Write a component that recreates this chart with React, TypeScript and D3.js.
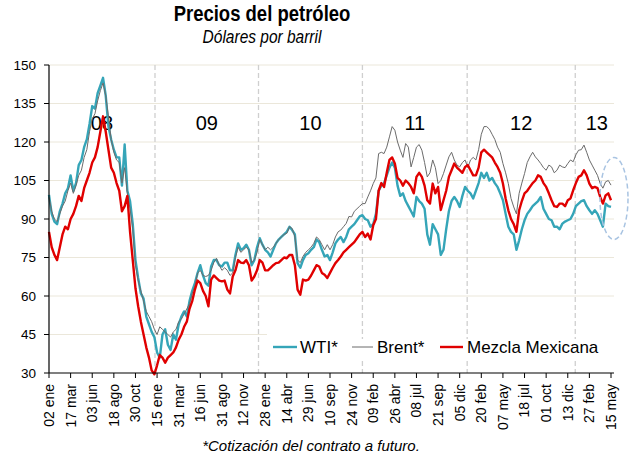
import React from "react";
import * as d3 from "d3";

// Sampled every 6.5 trading days (8 samples per x tick interval)
const wti: number[] = [
  99.4, 92, 89, 88, 93, 96, 100, 102, 107, 101, 104, 111, 113, 118, 121, 127, 134, 133, 139, 142, 145, 138, 126, 121,
  117, 114, 114, 103, 119, 101, 97, 88, 74, 67, 61, 59, 52, 49, 46, 44, 38, 36, 45, 47, 41, 39, 45, 43, 49, 52, 54, 52, 58,
  62, 65, 69, 72, 68, 65, 64, 71.5, 74, 74, 72, 71.5, 73, 73, 70, 70, 76, 80.5, 78, 78.6, 80, 78, 72, 74, 79, 82.5, 80,
  78, 77, 75.4, 78, 80.5, 82, 83, 84, 85, 87, 85.7, 84, 72.8, 71, 74, 76, 76.7, 78, 79, 82, 81, 78, 75.4, 76, 74, 77,
  80.5, 82, 83, 81, 83, 86, 87, 88, 89.5, 91, 91.5, 90, 89.5, 87, 88, 92, 101, 103, 104, 107, 110, 112, 110, 103, 99,
  100, 97, 95, 93, 91, 98.6, 97, 96, 94, 84, 80, 88, 86, 84, 76, 78, 86, 93, 97, 98.6, 97, 94.7, 99, 102.5, 101, 100, 98,
  101, 104, 108, 106, 108, 105, 106, 104, 102.5, 100, 97.3, 92, 87, 85, 84, 78, 81.7, 86, 89.5, 92, 93.4, 95, 96, 97,
  98.6, 94, 92, 90, 89.5, 87, 87, 86, 88.2, 89, 89.5, 90, 92, 95, 96, 97, 97.3, 95, 93.4, 92, 93.4, 92, 89.5, 87, 96, 95,
  94.7,
];
const brent: number[] = [
  98.5, 93, 90, 89, 92, 95, 97, 101, 104, 100, 103, 107, 109, 114, 117, 124, 129, 131, 136, 140, 143, 138, 130, 121,
  116, 113, 112, 104, 110, 100, 94, 86, 72, 66, 62, 58, 54, 52, 50, 47, 45, 48, 47, 46, 45, 44, 46, 47, 50, 51, 53, 55, 57,
  61, 64, 69, 70, 68, 67.6, 68, 70, 73, 74.7, 72, 70, 71, 70, 68, 69, 75, 79, 77, 78, 79, 78, 73, 74, 77, 82, 80, 78, 79,
  78, 79, 80.5, 82, 83, 84, 84.4, 87, 86.3, 83, 74, 73, 75.4, 77, 78, 79, 80.5, 83, 82, 80, 78, 80, 78, 80, 83, 85, 85.7,
  87, 88.3, 91, 90.8, 93, 94, 95, 96, 96, 98.6, 101, 103.8, 106, 115.5, 116, 115.5, 118, 122, 126, 124.6, 120, 116.8, 114,
  119.4, 118, 110.3, 114, 118, 119, 116.8, 112, 106.4, 108, 113, 110, 103.8, 105, 107.7, 111, 114.2, 116, 113, 111, 110.3,
  112, 113, 110, 113, 114, 113, 117, 123, 126, 126, 125, 123, 121, 118, 116, 111.6, 108, 103.8, 98, 94.7, 92, 100, 104,
  107.7, 112, 114.2, 116, 114.2, 113, 111.6, 110, 109, 111, 110.3, 108, 109, 111, 110.3, 110, 111.6, 113, 112.3, 115,
  116.8, 117, 118.8, 116, 113, 111, 109, 107, 103.8, 102, 104.5, 105, 103.2,
];
const mezcla: number[] = [
  85, 79, 76, 74, 79, 84, 87, 86, 90, 92, 95, 99, 97, 102, 105, 108, 112, 114, 118, 124, 130, 124, 117, 110, 108, 104,
  101, 93, 95, 99, 85, 74, 63, 56, 50, 45, 40, 36, 31, 29.5, 33, 37, 36, 34, 36, 37, 38, 40, 43, 45, 48, 50, 55, 58, 62.5,
  66, 65, 62, 60, 56, 66.4, 68, 67, 66, 65.7, 66, 62.5, 61, 67.6, 70, 74, 73, 72.8, 74, 72, 66, 67.6, 70, 74, 73, 70, 70,
  71, 72, 72.8, 73, 74, 75, 74.7, 76, 76, 72, 62.5, 60.5, 66.4, 66, 66.4, 68, 70, 72, 71.5, 69, 68.3, 67, 69, 71, 72.8,
  74, 75.4, 77, 78, 79, 80, 81, 82.5, 84, 85, 83, 84.3, 82, 87.6, 90, 101, 104, 102.5, 108, 113, 114, 111.6, 106, 105,
  103, 105, 104, 102.5, 100, 106.4, 108, 106.4, 103, 97.3, 96, 103.8, 100, 102.5, 93.5, 97.3, 101, 106.4, 109, 111.6,
  110, 109, 108, 110.3, 111, 109, 107, 107, 110, 116, 117, 116, 115, 114, 112, 110.3, 108, 103.8, 98, 93.4, 90, 88, 85,
  93.4, 97, 100, 101, 102.5, 104, 105, 107, 106.4, 104, 102.5, 100, 97.3, 95, 94.7, 96, 96, 95, 97.3, 98, 101.2, 104,
  106.4, 107, 109, 107, 103.8, 102, 102.5, 102, 98.6, 96, 99.2, 100, 97.3,
];
const SAMPLE_STEP = 6.5; // trading days between samples
const TICK_STEP = 52; // trading days between tick labels

const tickLabels: string[] = [
  "02 ene", "17 mar", "03 jun", "18 ago", "30 oct", "15 ene", "31 mar", "16 jun", "31 ago", "12 nov",
  "28 ene", "14 abr", "29 jun", "10 sep", "24 nov", "09 feb", "26 abr", "08 jul", "21 sep", "05 dic",
  "20 feb", "07 may", "18 jul", "01 oct", "13 dic", "27 feb", "15 may",
];
const yTicks: number[] = [30, 45, 60, 75, 90, 105, 120, 135, 150];
const yearLabels: string[] = ["08", "09", "10", "11", "12", "13"];
const yearBounds: number[] = [0, 255, 504, 754, 1006, 1266, 1370]; // trading-day index of year starts

const seriesNames = ["WTI*", "Brent*", "Mezcla Mexicana"];
const COLORS = { wti: "#35a5b8", brent: "#6b6b6b", mezcla: "#e00000" };
const FONT = "'Liberation Sans', Arial, Helvetica, sans-serif";

export default function App() {
  const W = 630, H = 462;
  const left = 49, right = 611, top = 65, bottom = 373;
  const x = d3.scaleLinear().domain([0, (tickLabels.length - 1) * TICK_STEP]).range([left, right]);
  const y = d3.scaleLinear().domain([30, 150]).range([bottom, top]);
  const line = d3
    .line<number>()
    .x((_, i) => x(i * SAMPLE_STEP))
    .y((d) => y(d))
    .curve(d3.curveLinear);

  const axisEnd = 614;
  return (
    <svg
      width={W}
      height={H}
      viewBox={`0 0 ${W} ${H}`}
      style={{ position: "absolute", left: 0, top: 0, background: "#fff" }}
      fontFamily={FONT}
    >
      <rect x={0} y={0} width={W} height={H} fill="#fff" />
      {/* title */}
      <text transform="translate(262,21) scale(1,1.15)" textAnchor="middle" fontSize={18.5} fontWeight="bold" fill="#000">
        Precios del petróleo
      </text>
      <text transform="translate(262,43) scale(1,1.15)" textAnchor="middle" fontSize={15.5} fontStyle="italic" fill="#000">
        Dólares por barril
      </text>

      {/* gridlines */}
      {yTicks.slice(1).map((t) => (
        <line key={t} x1={left} x2={axisEnd} y1={y(t)} y2={y(t)} stroke="#ebe7da" strokeWidth={1} />
      ))}

      {/* legend background (covers gridline) */}
      <rect x={267} y={326} width={348} height={44} fill="#fff" />

      {/* year dividers */}
      {yearBounds.slice(1, -1).map((b) => (
        <line
          key={b}
          x1={x(b)}
          x2={x(b)}
          y1={top}
          y2={bottom}
          stroke="#cfcfcf"
          strokeWidth={1.3}
          strokeDasharray="5,3"
        />
      ))}
      <rect x={267} y={339} width={348} height={22} fill="#fff" />

      {/* year labels */}
      {yearLabels.map((lab, i) => (
        <text
          key={lab}
          x={x((yearBounds[i] + yearBounds[i + 1]) / 2)}
          y={130}
          textAnchor="middle"
          fontSize={20}
          fill="#000"
        >
          {lab}
        </text>
      ))}

      {/* series */}
      <path d={line(wti) || ""} fill="none" stroke={COLORS.wti} strokeWidth={2.4} strokeLinejoin="round" />
      <path d={line(brent) || ""} fill="none" stroke={COLORS.brent} strokeWidth={1} strokeLinejoin="round" />
      <path d={line(mezcla) || ""} fill="none" stroke={COLORS.mezcla} strokeWidth={2.4} strokeLinejoin="round" />

      {/* axes */}
      <line x1={left} x2={left} y1={top} y2={bottom} stroke="#000" strokeWidth={1.2} />
      <line x1={left} x2={axisEnd} y1={bottom} y2={bottom} stroke="#000" strokeWidth={1.2} />
      {yTicks.map((t) => (
        <g key={t}>
          <line x1={left - 5} x2={left} y1={y(t)} y2={y(t)} stroke="#000" strokeWidth={1} />
          <text x={36} y={y(t)} dy="0.35em" textAnchor="end" fontSize={13.5} fill="#000">
            {t}
          </text>
        </g>
      ))}
      {tickLabels.map((lab, i) => {
        const xx = x(i * TICK_STEP);
        return (
          <g key={lab + i}>
            <line x1={xx} x2={xx} y1={bottom} y2={bottom + 5} stroke="#000" strokeWidth={1} />
            <text
              transform={`translate(${xx},${384}) rotate(-90)`}
              textAnchor="end"
              dy="0.35em"
              fontSize={14}
              fill="#000"
            >
              {lab}
            </text>
          </g>
        );
      })}

      {/* legend */}
      <line x1={273} x2={297} y1={347} y2={347} stroke={COLORS.wti} strokeWidth={2.4} />
      <text x={300} y={353} fontSize={17} fill="#000">{seriesNames[0]}</text>
      <line x1={352} x2={373} y1={347} y2={347} stroke={COLORS.brent} strokeWidth={1} />
      <text x={377} y={353} fontSize={17} fill="#000">{seriesNames[1]}</text>
      <line x1={440} x2={463} y1={347} y2={347} stroke={COLORS.mezcla} strokeWidth={2.4} />
      <text x={467} y={353} fontSize={17} fill="#000">{seriesNames[2]}</text>

      {/* highlight ellipse */}
      <ellipse
        cx={x(1352) + 3}
        cy={y(98)}
        rx={14}
        ry={41}
        fill="none"
        stroke="#a9c4e2"
        strokeWidth={1.5}
        strokeDasharray="5,3"
      />

      {/* footnote */}
      <text x={311} y={451} textAnchor="middle" fontSize={15} fontStyle="italic" fill="#000">
        *Cotización del contrato a futuro.
      </text>
    </svg>
  );
}
